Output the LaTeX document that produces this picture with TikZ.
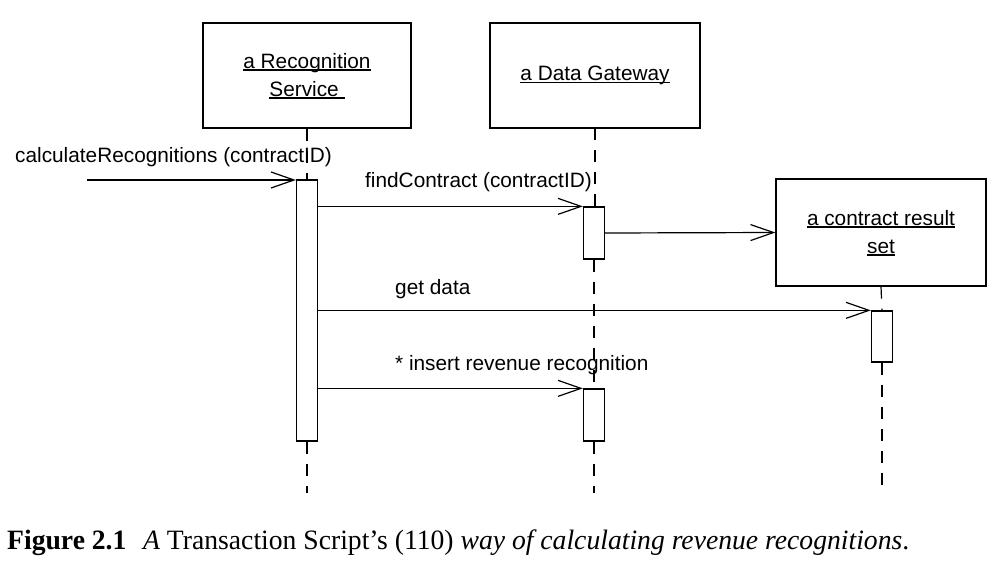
\documentclass[tikz,border=0pt]{standalone}
\usepackage{fontspec}
\setmainfont{Liberation Serif}
\newfontfamily\diagfont{Liberation Sans}
\usetikzlibrary{arrows.meta}
\newcommand\objul[1]{\setbox0\hbox{#1}\rlap{\rule[-2.6pt]{\wd0}{1.2pt}}\box0}
\begin{document}
\begin{tikzpicture}[x=1pt,y=-1pt,
  obj/.style={draw,line width=1.3pt,inner sep=0pt,align=center,
    font=\diagfont\fontsize{20.8}{28}\selectfont},
  act/.style={draw,line width=1.3pt,fill=white,inner sep=0pt,minimum width=21pt},
  msg/.style={line width=1.2pt,-{Straight Barb[length=23pt,width=16pt,line width=1.2pt]}},
  life/.style={line width=1.2pt,dash pattern=on 12pt off 10pt},
  lbl/.style={anchor=base west,inner sep=0pt,font=\diagfont\fontsize{20.8}{28}\selectfont}]
\useasboundingbox (0,0) rectangle (1006,565);
% objects
\node[obj,minimum width=208pt,minimum height=105pt,text depth=2pt] (rs) at (307,75.5)
  {\objul{a Recognition}\\\objul{Service\ }};
\node[obj,minimum width=210pt,minimum height=105pt] (dg) at (595,75.5)
  {\objul{a Data Gateway}};
\node[obj,minimum width=210pt,minimum height=107pt,text depth=2pt] (cr) at (881,232.5)
  {\objul{a contract result}\\\objul{set}};
% activations
\node[act,minimum height=261pt] (rsa) at (307,310.5) {};
\node[act,minimum height=52pt] (dga) at (594,233) {};
\node[act,minimum height=51pt] (cra) at (882,336.5) {};
\node[act,minimum height=52pt] (dgb) at (594,415) {};
% lifelines
\coordinate (rsend) at (307,493);
\coordinate (dgend) at (594,493);
\coordinate (crend) at (882,493);
\draw[life] (rs.south) -- (rsa.north);
\draw[life] (rsa.south) -- (rsend);
\draw[life] (dga.north -| dg.south) -- (dg.south);
\draw[life] (dga.south) -- (dgb.north);
\draw[life] (dgb.south) -- (dgend);
\draw[life] (cr.south) -- (cra.north);
\draw[life] (cra.south) -- (crend);
% messages
\coordinate (start) at (87,180);
\draw[msg] (start) -- (start -| rsa.west);
\draw[msg] (rsa.east |- dga.north) -- (dga.north west);
\draw[msg] (dga.east) -- (cr.west);
\draw[msg] (rsa.east |- cra.north) -- (cra.north west);
\draw[msg] (rsa.east |- dgb.north) -- (dgb.north west);
% labels
\node[lbl] (l1) at (15,162) {calculateRecognitions (contractID)};
\node[lbl] (l2) at (365,187) {findContract (contractID)};
\node[lbl] (l3) at (395,294) {get data};
\node[lbl] (l4) at (395,370) {* insert revenue recognition};
% caption
\node[anchor=base west,inner sep=0pt] (cap) at (7,549)
  {\resizebox{902pt}{\height}{\fontsize{28}{30}\selectfont\textbf{Figure 2.1}\hspace{0.6em}\textit{A} Transaction Script’s (110) \textit{way of calculating revenue recognitions}.}};
\end{tikzpicture}
\end{document}
